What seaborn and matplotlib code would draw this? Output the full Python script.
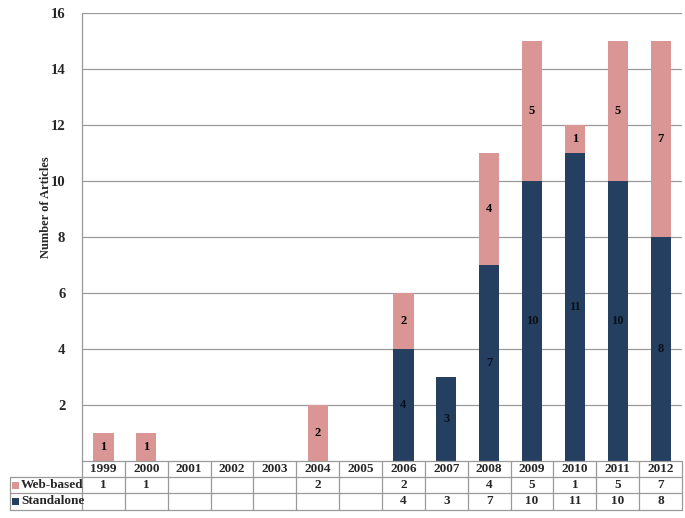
import matplotlib
matplotlib.use("Agg")
import matplotlib.pyplot as plt
import seaborn as sns
import pandas as pd
from matplotlib.patches import Rectangle
from matplotlib.lines import Line2D

years = ["1999", "2000", "2001", "2002", "2003", "2004", "2005",
         "2006", "2007", "2008", "2009", "2010", "2011", "2012"]
web_based = [1, 1, 0, 0, 0, 2, 0, 2, 0, 4, 5, 1, 5, 7]
standalone = [0, 0, 0, 0, 0, 0, 0, 4, 3, 7, 10, 11, 10, 8]
series_names = ["Web-based", "Standalone"]
yticks = [2, 4, 6, 8, 10, 12, 14, 16]

PINK = "#D99694"
NAVY = "#243F60"
FONT = "Liberation Serif"

sns.set_theme(style="white")
plt.rcParams["font.family"] = [FONT, "DejaVu Serif"]

W, H = 685, 518
fig = plt.figure(figsize=(W / 100, H / 100), dpi=100)
L, R, T, B = 82, 682, 13, 461
ax = fig.add_axes([L / W, 1 - B / H, (R - L) / W, (B - T) / H])

df = pd.DataFrame({"year": years, "web": web_based, "stand": standalone})
df["total"] = df["web"] + df["stand"]

sns.barplot(data=df, x="year", y="total", color=PINK, width=0.47,
            saturation=1, ax=ax, errorbar=None)
sns.barplot(data=df, x="year", y="stand", color=NAVY, width=0.47,
            saturation=1, ax=ax, errorbar=None)
for p in ax.patches:
    p.set_edgecolor("none")
    p.set_zorder(3)

ax.set_xlim(-0.5, len(years) - 0.5)
ax.set_ylim(0, 16)
ax.set_yticks(yticks)
ax.set_yticklabels([str(t) for t in yticks], fontsize=10.5, fontweight="bold",
                   family=FONT)
ax.tick_params(axis="y", length=0, pad=12)
ax.set_xticks([])
ax.set_xlabel("")
ax.set_ylabel("")
ax.grid(axis="y", color="#999999", linewidth=0.9, zorder=0)
ax.set_axisbelow(True)
for s in ["top", "right", "bottom"]:
    ax.spines[s].set_visible(False)
ax.spines["left"].set_color("#999999")
ax.spines["left"].set_linewidth(0.9)

# segment labels
for i, (w, s) in enumerate(zip(web_based, standalone)):
    if s > 0:
        ax.text(i, s / 2, str(s), ha="center", va="center", fontsize=9,
                fontweight="bold", color="#0a0f1a", family=FONT, zorder=4)
    if w > 0:
        ax.text(i, s + w / 2, str(w), ha="center", va="center", fontsize=9,
                fontweight="bold", color="black", family=FONT, zorder=4)

fig.text(46 / W, 1 - 207 / H, "Number of Articles", rotation=90,
         ha="center", va="center", fontsize=9, fontweight="bold", family=FONT)

# data table
rows_y = [461, 477, 493, 510]
col_w = (R - L) / len(years)
gc = "#9a9a9a"

def fx(px):
    return px / W

def fy(py):
    return 1 - py / H

fig.add_artist(Line2D([fx(L), fx(R)], [fy(rows_y[0])] * 2, color=gc, lw=0.9))
for yy in rows_y[1:]:
    fig.add_artist(Line2D([fx(10), fx(R)], [fy(yy)] * 2, color=gc, lw=0.9))
for k in range(len(years) + 1):
    xx = L + k * col_w
    fig.add_artist(Line2D([fx(xx)] * 2, [fy(rows_y[0]), fy(rows_y[3])],
                          color=gc, lw=0.9))
fig.add_artist(Line2D([fx(10)] * 2, [fy(rows_y[1]), fy(rows_y[3])],
                      color=gc, lw=0.9))

for k, yr in enumerate(years):
    cx = L + (k + 0.5) * col_w
    fig.text(fx(cx), fy((rows_y[0] + rows_y[1]) / 2), yr, ha="center",
             va="center", fontsize=9.5, fontweight="bold", family=FONT)
    if web_based[k] > 0:
        fig.text(fx(cx), fy((rows_y[1] + rows_y[2]) / 2), str(web_based[k]),
                 ha="center", va="center", fontsize=9.5, fontweight="bold",
                 family=FONT)
    if standalone[k] > 0:
        fig.text(fx(cx), fy((rows_y[2] + rows_y[3]) / 2), str(standalone[k]),
                 ha="center", va="center", fontsize=9.5, fontweight="bold",
                 family=FONT)

for j, (name, col) in enumerate(zip(series_names, [PINK, NAVY])):
    yc = (rows_y[j + 1] + rows_y[j + 2]) / 2
    fig.add_artist(Rectangle((fx(12), fy(yc + 3.5)), 7 / W, 7 / H,
                             facecolor=col, edgecolor="none"))
    fig.text(fx(21), fy(yc), name, ha="left", va="center", fontsize=9.5,
             fontweight="bold", family=FONT)

fig.savefig("out.png", dpi=100, facecolor="white")
